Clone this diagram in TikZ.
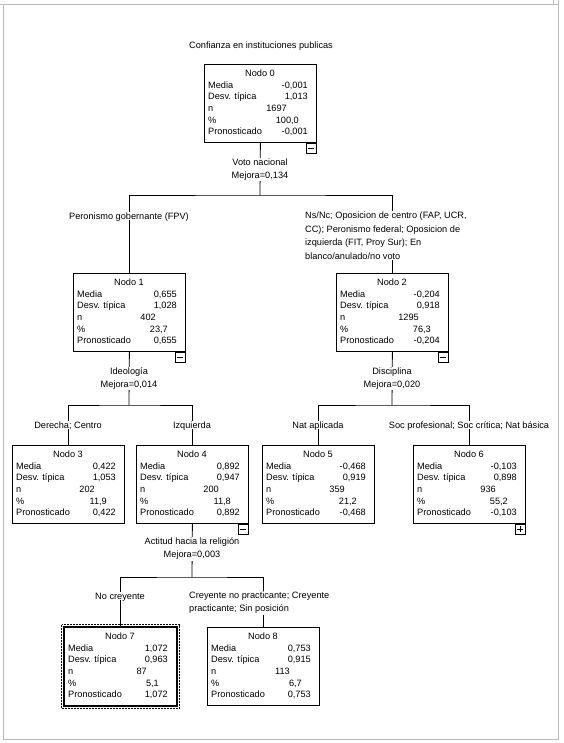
\documentclass[tikz,border=0pt]{standalone}
\usepackage{fontspec}
\setmainfont{Liberation Sans}
\usetikzlibrary{calc}
\definecolor{framegray}{RGB}{188,188,188}
\newcommand{\treenode}[9]{%
  \node[tbox, anchor=north west] (#1) at (#2,#3) {};
  \node[tt] at ($(#1.north west)+(56,9)$) {#4};
  \node[tt, anchor=west] at ($(#1.north west)+(4,20.7)$) {Media};
  \node[tt, anchor=east] at ($(#1.north west)+(104,20.7)$) {#5};
  \node[tt, anchor=west] at ($(#1.north west)+(4,32.4)$) {Desv. típica};
  \node[tt, anchor=east] at ($(#1.north west)+(104,32.4)$) {#6};
  \node[tt, anchor=west] at ($(#1.north west)+(4,44.1)$) {n};
  \node[tt, anchor=east] at ($(#1.north west)+(83,44.1)$) {#7};
  \node[tt, anchor=west] at ($(#1.north west)+(4,55.8)$) {\%};
  \node[tt, anchor=east] at ($(#1.north west)+(95,55.8)$) {#8};
  \node[tt, anchor=west] at ($(#1.north west)+(4,67.5)$) {Pronosticado};
  \node[tt, anchor=east] at ($(#1.north west)+(104,67.5)$) {#9};
}
\newcommand{\minusbox}[2]{%
  \node[tog] (#1) at (#2.south east) {};
  \draw[line width=0.7pt] ($(#1.center)+(-3,0.5)$) -- ($(#1.center)+(3,0.5)$);
}
\newcommand{\plusbox}[2]{%
  \node[tog] (#1) at (#2.south east) {};
  \draw[line width=0.7pt] ($(#1.center)+(-3,0)$) -- ($(#1.center)+(3,0)$);
  \draw[line width=0.7pt] ($(#1.center)+(0,-3)$) -- ($(#1.center)+(0,3)$);
}
\begin{document}
\begin{tikzpicture}[x=1pt,y=-1pt,
  every node/.style={font=\fontsize{9.2}{13}\selectfont, inner sep=0pt},
  tbox/.style={draw, line width=0.8pt, minimum width=112pt, minimum height=78pt, inner sep=0pt},
  tt/.style={text height=6.7pt, text depth=0pt},
  lbl/.style={fill=white, inner sep=1pt},
  conn/.style={line width=0.8pt},
  tog/.style={draw, fill=white, line width=0.7pt, minimum size=10pt, inner sep=0pt, anchor=north east},
]
\useasboundingbox (0,0) rectangle (563,743);
% page frame
\draw[framegray, line width=0.8pt] (3,4) rectangle (558,739);
\draw[framegray, line width=0.8pt] (0,4) -- (3,4);
\draw[framegray, line width=0.8pt] (553,0) -- (553,4);
\draw[framegray, line width=0.8pt] (558,0) -- (558,4);

% title
\node[tt] (title) at (261,45) {Confianza en instituciones publicas};

% nodes
\treenode{n0}{204}{64}{Nodo 0}{-0,001}{1,013}{1697}{100,0}{-0,001}
\treenode{n1}{73}{273}{Nodo 1}{0,655}{1,028}{402}{23,7}{0,655}
\treenode{n2}{336}{273}{Nodo 2}{-0,204}{0,918}{1295}{76,3}{-0,204}
\treenode{n3}{12}{445}{Nodo 3}{0,422}{1,053}{202}{11,9}{0,422}
\treenode{n4}{136}{445}{Nodo 4}{0,892}{0,947}{200}{11,8}{0,892}
\treenode{n5}{262}{445}{Nodo 5}{-0,468}{0,919}{359}{21,2}{-0,468}
\treenode{n6}{413}{445}{Nodo 6}{-0,103}{0,898}{936}{55,2}{-0,103}
\treenode{n7}{64}{627}{Nodo 7}{1,072}{0,963}{87}{5,1}{1,072}
\treenode{n8}{207}{627}{Nodo 8}{0,753}{0,915}{113}{6,7}{0,753}

% selected node 7
\draw[line width=1.6pt] (n7.north west) rectangle (n7.south east);
\draw[line width=0.9pt, dash pattern=on 2pt off 1pt] ($(n7.north west)+(-2.5,-2.5)$) rectangle ($(n7.south east)+(2.5,2.5)$);

% connectors
\coordinate (b0) at (260,195);
\coordinate (b1) at (129,405);
\coordinate (b2) at (392,405);
\coordinate (b4) at (192,577);
\draw[conn] (n0.south) -- (b0);
\draw[conn] (n1.north) |- (b0) -| (n2.north);
\draw[conn] (n1.south) -- (b1);
\draw[conn] (n3.north) |- (b1) -| (n4.north);
\draw[conn] (n2.south) -- (b2);
\draw[conn] (n5.north) |- (b2) -| (n6.north);
\draw[conn] (n4.south) -- (b4);
\draw[conn] (n7.north) |- (b4) -| (n8.north);

% toggles
\minusbox{t0}{n0}
\minusbox{t1}{n1}
\minusbox{t2}{n2}
\minusbox{t4}{n4}
\plusbox{t6}{n6}

% split labels
\node[lbl, align=center] (s0) at (260,169.5) {Voto nacional\\Mejora=0,134};
\node[lbl, align=center] (s1) at (129,378.5) {Ideología\\Mejora=0,014};
\node[lbl, align=center] (s2) at (392,378.5) {Disciplina\\Mejora=0,020};
\node[lbl, align=center] (s4) at (192,549) {Actitud hacia la religión\\Mejora=0,003};

% branch labels
\node[lbl, tt] (l1) at (129,216) {Peronismo gobernante (FPV)};
\node[lbl, align=left, anchor=north west, font=\fontsize{9.2}{13.5}\selectfont] (l2) at (304,211) {Ns/Nc; Oposicion de centro (FAP, UCR,\\CC); Peronismo federal; Oposicion de\\izquierda (FIT, Proy Sur); En\\blanco/anulado/no voto};
\node[lbl, tt] (l3) at (68,425) {Derecha; Centro};
\node[lbl, tt] (l4) at (192,425) {Izquierda};
\node[lbl, tt] (l5) at (318,425) {Nat aplicada};
\node[lbl, tt] (l6) at (469,425) {Soc profesional; Soc crítica; Nat básica};
\node[lbl, tt] (l7) at (120,596) {No creyente};
\node[lbl, align=left, anchor=north west, font=\fontsize{9.2}{13}\selectfont] (l8) at (188,591) {Creyente no practicante; Creyente\\practicante; Sin posición};
\end{tikzpicture}
\end{document}
